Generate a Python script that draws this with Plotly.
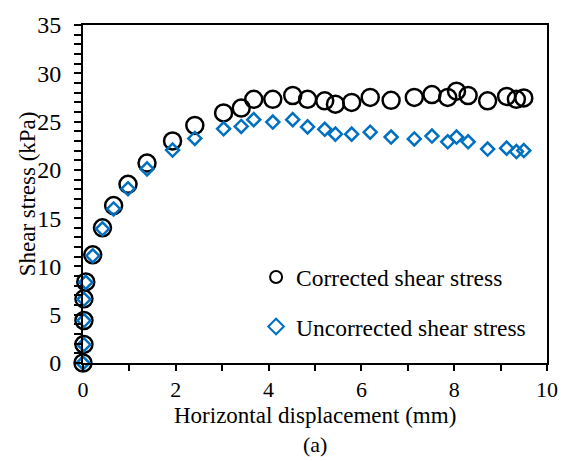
import plotly.graph_objects as go

disp = [0, 0.02, 0.02, 0.02, 0.06, 0.21, 0.42, 0.66, 0.97, 1.38, 1.93, 2.41, 3.03, 3.41,
        3.68, 4.09, 4.52, 4.84, 5.21, 5.44, 5.79, 6.19, 6.64, 7.14, 7.52, 7.86, 8.05,
        8.30, 8.72, 9.13, 9.34, 9.50]
corrected = [0, 1.92, 4.4, 6.65, 8.4, 11.2, 14.0, 16.3, 18.5, 20.7, 23.0, 24.6, 25.9, 26.4,
             27.3, 27.3, 27.7, 27.3, 27.15, 26.8, 26.98, 27.5, 27.2, 27.5, 27.8, 27.5, 28.15,
             27.7, 27.15, 27.6, 27.3, 27.45]
uncorrected = [0, 1.9, 4.4, 6.6, 8.35, 11.1, 13.9, 15.95, 18.05, 20.1, 22.05, 23.25, 24.25,
               24.5, 25.2, 24.95, 25.2, 24.45, 24.2, 23.7, 23.7, 23.9, 23.4, 23.2, 23.5, 22.9,
               23.4, 22.9, 22.15, 22.25, 21.9, 22.0]

x_title = "Horizontal displacement (mm)"
y_title = "Shear stress (kPa)"
caption = "(a)"

FONT = "Liberation Serif"

fig = go.Figure()
fig.add_trace(go.Scatter(
    x=disp, y=corrected, mode="markers", name="Corrected shear stress",
    legendgroup="a",
    marker=dict(symbol="circle-open", size=17, color="black", line=dict(width=2.5, color="black")),
))
fig.add_trace(go.Scatter(
    x=disp, y=uncorrected, mode="markers", name="Uncorrected shear stress",
    legendgroup="b",
    marker=dict(symbol="diamond-open", size=10, color="#0070C0", line=dict(width=2.5, color="#0070C0")),
))

fig.update_layout(
    width=570, height=461,
    margin=dict(l=83, r=21, t=20, b=98),
    paper_bgcolor="white", plot_bgcolor="white",
    font=dict(family=FONT, size=23, color="black"),
    showlegend=True,
    legend=dict(x=0.373, y=0.18, xanchor="left", yanchor="middle",
                bgcolor="rgba(0,0,0,0)", tracegroupgap=16, itemsizing="constant",
                font=dict(family=FONT, size=23.5, color="black")),
    annotations=[
        dict(text=x_title, x=0.5, xref="paper", y=-0.156, yref="paper",
             xanchor="center", yanchor="middle", showarrow=False,
             font=dict(family=FONT, size=23, color="black")),
        dict(text=y_title, x=-0.12, xref="paper", y=0.5, yref="paper", textangle=-90,
             xanchor="center", yanchor="middle", showarrow=False,
             font=dict(family=FONT, size=23, color="black")),
        dict(text=caption, x=0.5, xref="paper", y=-0.241, yref="paper",
             xanchor="center", yanchor="middle", showarrow=False,
             font=dict(family=FONT, size=22, color="black")),
    ],
)
fig.update_xaxes(
    range=[0, 10], dtick=2, tick0=0, ticks="outside", ticklen=6, tickwidth=1.5,
    tickcolor="black", showline=True, linecolor="black", linewidth=2, mirror=True,
    showgrid=False, zeroline=False,
    minor=dict(dtick=1, ticks="outside", ticklen=6, tickwidth=1.5, tickcolor="black", showgrid=False),
    tickfont=dict(family=FONT, size=22),
)
fig.update_yaxes(
    range=[0, 35], dtick=5, tick0=0, ticks="outside", ticklen=7, tickwidth=1.5,
    tickcolor="black", showline=True, linecolor="black", linewidth=2, mirror=True,
    showgrid=False, zeroline=False, ticklabelstandoff=8,
    minor=dict(dtick=1, ticks="outside", ticklen=7, tickwidth=1.5, tickcolor="black", showgrid=False),
    tickfont=dict(family=FONT, size=24),
)
fig.update_traces(cliponaxis=False)

fig.write_html("out.html")
